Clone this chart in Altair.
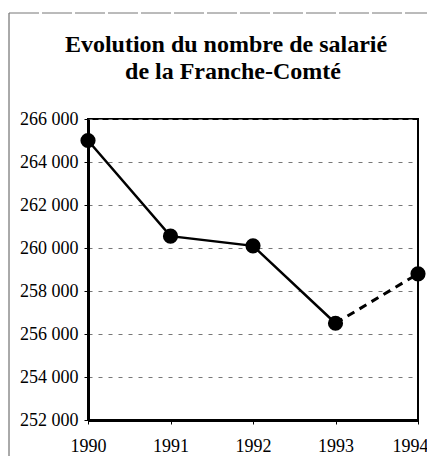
import altair as alt
import pandas as pd

years = [1990, 1991, 1992, 1993, 1994]
salaries = [265000, 260550, 260100, 256500, 258800]
segment = ["observé", "observé", "observé", "observé", "estimé"]
title_lines = ["Evolution du nombre de salarié", "de la Franche-Comté"]
y_ticks = [252000, 254000, 256000, 258000, 260000, 262000, 264000, 266000]

df = pd.DataFrame({"annee": years, "salaries": salaries, "segment": segment})
solid = df.iloc[0:4]
dashed = df.iloc[3:5]

FONT = "Liberation Serif"

x = alt.X("annee:Q", scale=alt.Scale(domain=[1990, 1994], nice=False, zero=False),
          axis=alt.Axis(values=years, format="d", title=None, grid=False,
                        labelFont=FONT, labelFontSize=18, labelColor="black",
                        tickColor="black", tickSize=4, labelPadding=13,
                        domainColor="black", domainWidth=3,
                        labelOffset={"expr": "datum.value == 1994 ? -8 : 0"},
                        labelFlush=False, labelBound=False, labelOverlap=False))
y = alt.Y("salaries:Q", scale=alt.Scale(domain=[252000, 266000], nice=False, zero=False),
          axis=alt.Axis(values=y_ticks, title=None, grid=True,
                        labelExpr="replace(format(datum.value, ',d'), ',', ' ')",
                        labelFont=FONT, labelFontSize=18, labelColor="black",
                        tickColor="black", tickSize=4, labelPadding=6,
                        gridDash=[4, 6], gridColor="#777", gridWidth=1,
                        domainColor="black", domainWidth=3))

line_solid = alt.Chart(solid).mark_line(color="black", strokeWidth=2.5).encode(x=x, y=y)
line_dashed = alt.Chart(dashed).mark_line(color="black", strokeWidth=3, strokeDash=[8, 6]).encode(x=x, y=y)
points = alt.Chart(df).mark_point(filled=True, color="black", size=230, opacity=1).encode(x=x, y=y)

t1 = alt.Chart(pd.DataFrame({"t": [title_lines[0]]})).mark_text(
    font=FONT, fontSize=24, fontWeight="bold", color="black", align="center", baseline="alphabetic"
).encode(text="t:N", x=alt.value(138), y=alt.value(-67))
t2 = alt.Chart(pd.DataFrame({"t": [title_lines[1]]})).mark_text(
    font=FONT, fontSize=24, fontWeight="bold", color="black", align="center", baseline="alphabetic"
).encode(text="t:N", x=alt.value(145), y=alt.value(-40))

frame_left = alt.Chart(pd.DataFrame({"a": [0]})).mark_rule(color="#555", strokeWidth=1).encode(
    x=alt.value(-79), y=alt.value(-106), y2=alt.value(340))
frame_top = alt.Chart(pd.DataFrame({"a": [0]})).mark_rule(color="#777", strokeWidth=1, strokeDash=[30, 3]).encode(
    x=alt.value(-79), x2=alt.value(346), y=alt.value(-106))

chart = alt.layer(frame_left, frame_top, line_solid, line_dashed, points, t1, t2).properties(
    width=330, height=301,
    autosize=alt.AutoSizeParams(type="none"),
    padding={"left": 80, "top": 111, "right": 9, "bottom": 36},
    background="white",
).configure_view(stroke="black", strokeWidth=2)

chart.save("out.html", embed_options={"renderer": "svg", "actions": False})
